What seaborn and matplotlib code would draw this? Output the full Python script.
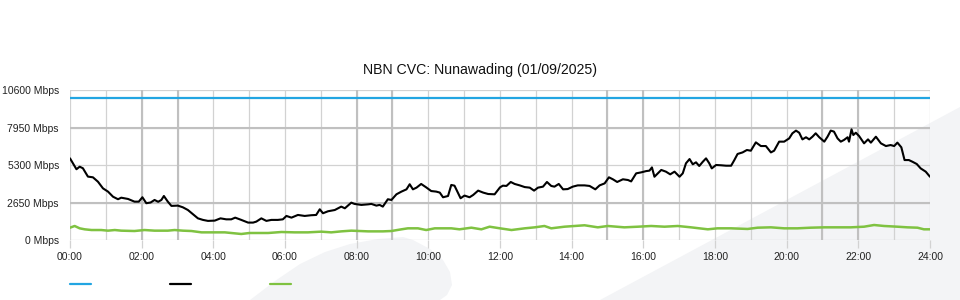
import matplotlib
matplotlib.use("Agg")
import matplotlib.pyplot as plt
from matplotlib.patches import Polygon
from matplotlib.lines import Line2D
import seaborn as sns
import pandas as pd

# ---------------- data ----------------
title = "NBN CVC: Nunawading (01/09/2025)"

capacity_hours = [0, 24]
capacity_mbps = [10000, 10000]

traffic_hours = [
    0.00, 0.18, 0.27, 0.36, 0.50, 0.64, 0.78, 0.92, 1.06, 1.20, 1.34, 1.43, 1.62, 1.80, 1.92,
    2.02, 2.13, 2.25, 2.36, 2.46, 2.55, 2.62, 2.73, 2.83, 3.01, 3.15, 3.29, 3.43, 3.57, 3.71,
    3.85, 4.04, 4.20, 4.36, 4.50, 4.61, 4.78, 4.97, 5.11, 5.20, 5.34, 5.48, 5.62, 5.80, 5.94,
    6.04, 6.18, 6.36, 6.55, 6.73, 6.87, 6.97, 7.06, 7.20, 7.39, 7.57, 7.67, 7.85, 7.94, 8.13,
    8.32, 8.41, 8.55, 8.64, 8.73, 8.87, 8.97, 9.11, 9.25, 9.39, 9.48, 9.57, 9.67, 9.80, 9.94,
    10.08, 10.22, 10.32, 10.41, 10.55, 10.64, 10.73, 10.81, 10.90, 11.01, 11.15, 11.25, 11.39,
    11.53, 11.67, 11.85,
    12.00, 12.08, 12.18, 12.30, 12.41, 12.55, 12.69, 12.83, 12.95, 13.06, 13.20, 13.31, 13.43,
    13.52, 13.64, 13.76, 13.89, 14.03, 14.17, 14.36, 14.50, 14.66, 14.78, 14.92, 15.04, 15.15,
    15.27, 15.43, 15.57, 15.66, 15.80, 15.94, 16.08, 16.17, 16.24, 16.31, 16.50, 16.63, 16.75,
    16.87, 17.01, 17.10, 17.19, 17.29, 17.38, 17.47, 17.56, 17.66, 17.75, 17.84, 17.91, 18.03,
    18.17, 18.31, 18.45, 18.54, 18.63, 18.77, 18.89, 19.00, 19.14, 19.28, 19.42, 19.56, 19.65,
    19.79, 19.93, 20.07, 20.16, 20.26, 20.35, 20.44, 20.54, 20.63, 20.72, 20.81, 20.91, 21.05,
    21.14, 21.23, 21.32, 21.42, 21.51, 21.60, 21.70, 21.74, 21.81, 21.86, 21.93, 22.02, 22.16,
    22.27, 22.35, 22.49, 22.63, 22.77, 22.90, 23.00, 23.09, 23.20, 23.29, 23.41, 23.51, 23.63,
    23.74, 23.88, 24.00,
]
traffic_mbps = [
    5770, 5000, 5180, 5070, 4480, 4430, 4120, 3650, 3420, 3060, 2880, 2990, 2900, 2710, 2710,
    3020, 2600, 2650, 2830, 2700, 2830, 3110, 2710, 2410, 2430, 2310, 2120, 1820, 1530, 1420,
    1350, 1370, 1530, 1460, 1460, 1580, 1420, 1230, 1230, 1300, 1530, 1350, 1420, 1420, 1460,
    1700, 1580, 1770, 1700, 1750, 1770, 2170, 1890, 2030, 2120, 2360, 2240, 2640, 2550, 2480,
    2520, 2550, 2430, 2480, 2360, 2880, 2830, 3230, 3420, 3580, 3940, 3580, 3700, 3960, 3720,
    3460, 3420, 3350, 3020, 3110, 3890, 3840, 3420, 2950, 3140, 3020, 3180, 3490,
    3350, 3250, 3230,
    3720, 3840, 3820, 4100, 3960, 3860, 3740, 3700, 3490, 3700, 3770, 4100, 3820,
    3770, 3960, 3580, 3600, 3770, 3860, 3860, 3820, 3580, 3860, 4000, 4430, 4290,
    4100, 4290, 4240, 4140, 4710, 4780, 4870, 4900, 5130, 4470, 4950, 4830, 4640,
    4830, 4470, 4710, 5420, 5720, 5350, 5490, 5230, 5530, 5770, 5420, 5060, 5300,
    5280, 5250, 5250, 5650, 6080, 6190, 6360, 6310, 6900, 6640, 6640, 6190, 6310,
    6950, 6950, 7180, 7540, 7730, 7580, 7110, 7260, 7110, 7300, 7540, 7260, 6950,
    7300, 7730, 7660, 7180, 6950, 7070, 7260, 6950, 7820, 7420, 7580, 7350, 6830,
    7110, 6880, 7300, 6830, 6640, 6710, 6640, 6880, 6550, 5650, 5650, 5530, 5370,
    5060, 4830, 4470,
]

upload_hours = [
    0.00, 0.13, 0.27, 0.41, 0.60, 0.87, 1.06, 1.25, 1.43, 1.80, 2.08, 2.36, 2.73, 2.92, 3.15,
    3.39, 3.67, 4.04, 4.32, 4.78, 5.01, 5.53, 5.90, 6.27, 6.64, 7.01, 7.29, 7.57, 7.85, 8.32,
    8.73, 8.97, 9.25, 9.43, 9.71, 9.94, 10.18, 10.64, 10.87, 11.20, 11.48, 11.71,
    12.00, 12.32, 12.69, 12.97, 13.24, 13.43, 13.80, 14.36, 14.73, 15.01, 15.47, 15.85, 16.22,
    16.59, 16.96, 17.33, 17.80, 18.07, 18.45, 18.91, 19.19, 19.56, 19.93, 20.30, 20.67, 21.05,
    21.42, 21.79, 22.16, 22.44, 22.72, 23.09, 23.37, 23.65, 23.83, 24.00,
]
upload_mbps = [
    870, 990, 825, 755, 705, 705, 660, 705, 660, 635, 705, 660, 660, 705, 660,
    635, 540, 540, 540, 425, 495, 495, 565, 540, 540, 590, 540, 610, 660, 610,
    610, 635, 755, 825, 825, 705, 825, 825, 755, 870, 755, 940,
    825, 705, 825, 895, 990, 825, 940, 1040, 895, 990, 895, 940, 990,
    940, 990, 895, 755, 825, 825, 780, 870, 895, 825, 825, 870, 895,
    895, 895, 940, 1060, 990, 940, 895, 870, 755, 755,
]

y_ticks = [0, 2650, 5300, 7950, 10600]
y_tick_labels = [f"{v} Mbps" for v in y_ticks]
x_major = list(range(0, 25, 2))
x_tick_labels = [f"{h:02d}:00" for h in x_major]
x_minor = list(range(1, 24, 2))
dark_hours = [2, 3, 8, 9, 15, 16, 21, 22]
dark_levels = [2650, 7950]

# ---------------- style ----------------
sns.set_theme(style="white")
plt.rcParams["font.family"] = ["Liberation Sans", "DejaVu Sans"]

BLUE = "#22a5e2"
BLACK = "#000000"
GREEN = "#7fc241"
GRID = "#d2d2d2"
GRID_DARK = "#c0c0c0"
WATERMARK = "#f3f4f6"

fig = plt.figure(figsize=(9.6, 3.0), dpi=100)
fig.patch.set_facecolor("white")

# background watermark shapes (figure pixel coords -> fraction)
def fp(px, py):
    return (px / 960.0, 1 - py / 300.0)

band = Polygon([fp(600, 300), fp(960, 107), fp(960, 300)], closed=True,
               transform=fig.transFigure, facecolor=WATERMARK, edgecolor="none", zorder=-5)
blob = Polygon([fp(250, 300), fp(275, 281), fp(300, 264), fp(325, 252), fp(350, 244),
                fp(378, 239), fp(403, 237), fp(413, 240), fp(430, 249), fp(443, 260),
                fp(450, 272), fp(452, 285), fp(447, 295), fp(440, 300)], closed=True,
               transform=fig.transFigure, facecolor=WATERMARK, edgecolor="none", zorder=-5)
fig.patches.extend([band, blob])

ax = fig.add_axes([70 / 960, 1 - 240 / 300, 860 / 960, 150 / 300])
ax.set_zorder(2)
ax.set_facecolor("none")
ax.patch.set_alpha(0)

cap_df = pd.DataFrame({"h": capacity_hours, "v": capacity_mbps})
tr_df = pd.DataFrame({"h": traffic_hours, "v": traffic_mbps})
up_df = pd.DataFrame({"h": upload_hours, "v": upload_mbps})

sns.lineplot(data=cap_df, x="h", y="v", ax=ax, color=BLUE, lw=1.6, sort=False,
             estimator=None, zorder=5)
sns.lineplot(data=tr_df, x="h", y="v", ax=ax, color=BLACK, lw=1.5, sort=False,
             estimator=None, zorder=5)
sns.lineplot(data=up_df, x="h", y="v", ax=ax, color=GREEN, lw=1.8, sort=False,
             estimator=None, zorder=5)

ax.set_xlim(0, 24)
ax.set_ylim(0, 10600)
ax.set_xlabel("")
ax.set_ylabel("")

ax.set_xticks(x_major)
ax.set_xticklabels(x_tick_labels)
ax.set_xticks(x_minor, minor=True)
ax.set_yticks(y_ticks)
ax.set_yticklabels(y_tick_labels)

for s in ax.spines.values():
    s.set_visible(False)

ax.grid(True, which="both", axis="x", color=GRID, lw=0.9, zorder=1)
ax.grid(True, which="major", axis="y", color=GRID, lw=0.9, zorder=1)
ax.set_axisbelow(True)
for h in dark_hours:
    ax.axvline(h, color=GRID_DARK, lw=1.5, zorder=1)
for lv in dark_levels:
    ax.axhline(lv, color=GRID_DARK, lw=1.5, zorder=1)

ax.tick_params(axis="x", which="major", length=6, width=0.9, color=GRID, pad=2.5,
               labelsize=7.5, labelcolor="#222222", bottom=True)
ax.tick_params(axis="x", which="minor", length=0)
ax.tick_params(axis="y", which="major", length=0, pad=8, labelsize=7.5,
               labelcolor="#222222", left=True)

fig.text(0.5, 1 - 70 / 300, title, ha="center", va="center", fontsize=10.2, color="#111111")

handles = [Line2D([], [], color=BLUE, lw=1.6),
           Line2D([], [], color=BLACK, lw=1.6),
           Line2D([], [], color=GREEN, lw=1.6)]
fig.legend(handles, ["", "", ""], loc="center left", bbox_to_anchor=(70 / 960, 1 - 285 / 300),
           ncol=3, frameon=False, fontsize=7.5, handlelength=2.0, handletextpad=0.0,
           columnspacing=7.6, borderpad=0, borderaxespad=0)

fig.savefig("out.png", dpi=100, facecolor="white")
